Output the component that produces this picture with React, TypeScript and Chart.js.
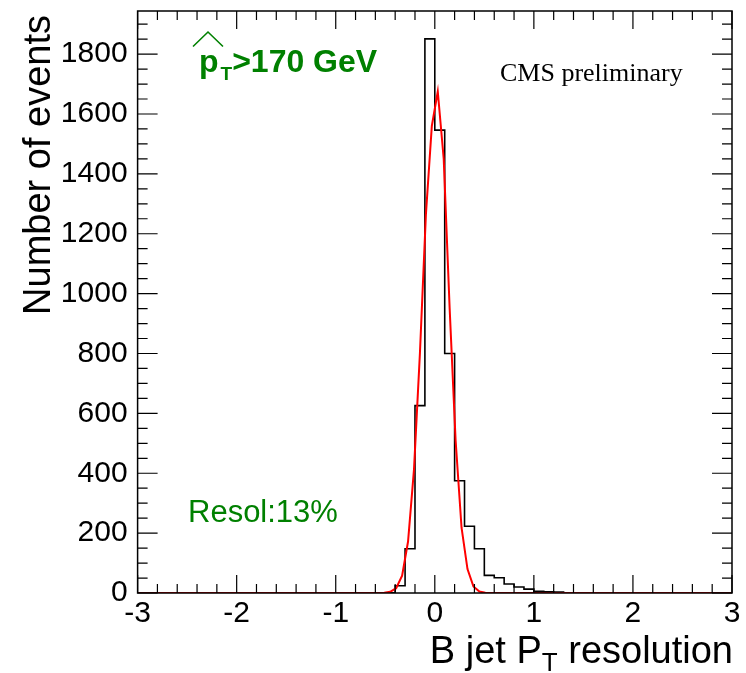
import React, { useEffect, useRef } from "react";
import { Chart, registerables } from "chart.js";

Chart.register(...registerables);

// Histogram: lower bin edges (width 0.1) and the counts in each bin
const binStarts = [-0.5, -0.4, -0.3, -0.2, -0.1, 0.0, 0.1, 0.2, 0.3, 0.4, 0.5, 0.6, 0.7, 0.8, 0.9, 1.0, 1.1, 1.2];
const binCounts = [1, 24, 148, 626, 1851, 1546, 800, 375, 223, 148, 59, 51, 30, 20, 13, 6, 4, 3];
const binWidth = 0.1;

// Gaussian fit curve, as drawn polyline points
const fitX = [-3, -0.51, -0.45, -0.39, -0.33, -0.27, -0.21, -0.15, -0.09, -0.03, 0.03, 0.09, 0.15, 0.21, 0.27, 0.33, 0.39, 0.45, 0.51, 3];
const fitY = [0, 1, 4, 16, 58, 172, 413, 802, 1263, 1560, 1675, 1450, 950, 510, 218, 80, 22, 5, 1, 0];

// Axis ranges and tick labels
const xMin = -3;
const xMax = 3;
const yMin = 0;
const yMax = 1944;
const xTickValues = [-3, -2, -1, 0, 1, 2, 3];
const yTickValues = [0, 200, 400, 600, 800, 1000, 1200, 1400, 1600, 1800];

const SANS = '"Liberation Sans", Arial, Helvetica, sans-serif';
const SERIF = '"Liberation Serif", "Times New Roman", serif';
const GREEN = "rgb(0,128,0)";

// Frame with ticks on all four sides, drawn inward
const frameTicks = {
  id: "frameTicks",
  afterDatasetsDraw(chart: any) {
    const { ctx, chartArea: a, scales } = chart;
    const xs = scales.x;
    const ys = scales.y;
    ctx.save();
    ctx.strokeStyle = "#000";
    ctx.lineWidth = 1.2;
    ctx.beginPath();
    for (let i = 0; i <= 30; i++) {
      const v = xMin + i * 0.2;
      const px = xs.getPixelForValue(v);
      const len = i % 5 === 0 ? 18 : 9;
      ctx.moveTo(px, a.bottom);
      ctx.lineTo(px, a.bottom - len);
      ctx.moveTo(px, a.top);
      ctx.lineTo(px, a.top + len);
    }
    for (let v = 0; v <= yMax; v += 50) {
      const py = ys.getPixelForValue(v);
      const len = v % 200 === 0 ? 20 : 10;
      ctx.moveTo(a.left, py);
      ctx.lineTo(a.left + len, py);
      ctx.moveTo(a.right, py);
      ctx.lineTo(a.right - len, py);
    }
    ctx.stroke();
    ctx.lineWidth = 1.5;
    ctx.strokeRect(a.left, a.top, a.right - a.left, a.bottom - a.top);
    ctx.restore();
  },
  afterDraw(chart: any) {
    const { ctx, chartArea: a } = chart;
    ctx.save();
    ctx.textBaseline = "alphabetic";

    // Y axis title, rotated, aligned to the top of the frame
    ctx.save();
    ctx.translate(50, a.top + 4);
    ctx.rotate(-Math.PI / 2);
    ctx.fillStyle = "#000";
    ctx.font = `38px ${SANS}`;
    ctx.textAlign = "right";
    ctx.fillText("Number of events", 0, 0);
    ctx.restore();

    // X axis title with subscript, aligned to the right of the frame
    ctx.fillStyle = "#000";
    const mainFont = `38px ${SANS}`;
    const subFont = `26px ${SANS}`;
    ctx.font = mainFont;
    const p1 = "B jet P";
    const p3 = " resolution";
    const w1 = ctx.measureText(p1).width;
    const w3 = ctx.measureText(p3).width;
    ctx.font = subFont;
    const w2 = ctx.measureText("T").width;
    const baseX = a.right + 1 - (w1 + w2 + w3);
    const baseY = 663;
    ctx.textAlign = "left";
    ctx.font = mainFont;
    ctx.fillText(p1, baseX, baseY);
    ctx.font = subFont;
    ctx.fillText("T", baseX + w1, baseY + 8);
    ctx.font = mainFont;
    ctx.fillText(p3, baseX + w1 + w2, baseY);

    // pT-hat threshold label
    ctx.fillStyle = GREEN;
    ctx.strokeStyle = GREEN;
    ctx.font = `bold 32px ${SANS}`;
    ctx.fillText("p", 199, 72);
    const pw = ctx.measureText("p").width;
    ctx.font = `bold 19px ${SANS}`;
    ctx.fillText("T", 199 + pw + 2, 80);
    const tw = ctx.measureText("T").width;
    ctx.font = `bold 32px ${SANS}`;
    ctx.fillText(">170 GeV", 199 + pw + 2 + tw, 72);
    ctx.lineWidth = 1.6;
    ctx.beginPath();
    ctx.moveTo(193, 46.5);
    ctx.lineTo(208, 32);
    ctx.lineTo(223, 46.5);
    ctx.stroke();

    // Fit resolution
    ctx.font = `31px ${SANS}`;
    ctx.fillText("Resol:13%", 188, 522);

    // Collaboration label
    ctx.fillStyle = "#000";
    ctx.font = `26px ${SERIF}`;
    ctx.fillText("CMS preliminary", 500, 81);

    ctx.restore();
  },
};

function histogramPoints() {
  const pts: { x: number; y: number }[] = [{ x: xMin, y: 0 }];
  binStarts.forEach((s, i) => pts.push({ x: s, y: binCounts[i] }));
  pts.push({ x: binStarts[binStarts.length - 1] + binWidth, y: 0 });
  pts.push({ x: xMax, y: 0 });
  return pts;
}

export default function App() {
  const canvasRef = useRef<HTMLCanvasElement | null>(null);

  useEffect(() => {
    if (!canvasRef.current) return;
    const chart = new Chart(canvasRef.current, {
      type: "line",
      data: {
        datasets: [
          {
            label: "fit",
            data: fitX.map((x, i) => ({ x, y: fitY[i] })),
            borderColor: "rgb(255,0,0)",
            borderWidth: 2,
            pointRadius: 0,
            tension: 0,
            fill: false,
          },
          {
            label: "histogram",
            data: histogramPoints(),
            borderColor: "#000",
            borderWidth: 1.6,
            pointRadius: 0,
            stepped: "before",
            fill: false,
          },
        ],
      },
      options: {
        responsive: false,
        animation: false,
        devicePixelRatio: 1,
        layout: { padding: { left: 0, right: 14, top: 11, bottom: 0 } },
        plugins: {
          legend: { display: false },
          tooltip: { enabled: false },
          title: { display: false },
        },
        scales: {
          x: {
            type: "linear",
            min: xMin,
            max: xMax,
            grid: { display: false, drawTicks: false },
            border: { display: false },
            afterBuildTicks: (scale: any) => {
              scale.ticks = xTickValues.map((v) => ({ value: v }));
            },
            afterFit: (scale: any) => {
              scale.height = 80;
              scale.paddingLeft = 0;
              scale.paddingRight = 0;
            },
            ticks: {
              autoSkip: false,
              maxRotation: 0,
              padding: 3,
              color: "#000",
              font: { family: SANS, size: 30 },
              callback: (v: any) => String(v),
            },
          },
          y: {
            type: "linear",
            min: yMin,
            max: yMax,
            grid: { display: false, drawTicks: false },
            border: { display: false },
            afterBuildTicks: (scale: any) => {
              scale.ticks = yTickValues.map((v) => ({ value: v }));
            },
            afterFit: (scale: any) => {
              scale.width = 137.6;
              scale.paddingTop = 0;
              scale.paddingBottom = 0;
            },
            ticks: {
              autoSkip: false,
              padding: 10,
              color: "#000",
              font: { family: SANS, size: 30 },
              callback: (v: any) => String(v),
            },
          },
        },
      },
      plugins: [frameTicks],
    });
    return () => chart.destroy();
  }, []);

  return (
    <div style={{ position: "fixed", left: 0, top: 0, width: 746, height: 673, background: "#fff" }}>
      <canvas ref={canvasRef} width={746} height={673} style={{ display: "block" }} />
    </div>
  );
}
